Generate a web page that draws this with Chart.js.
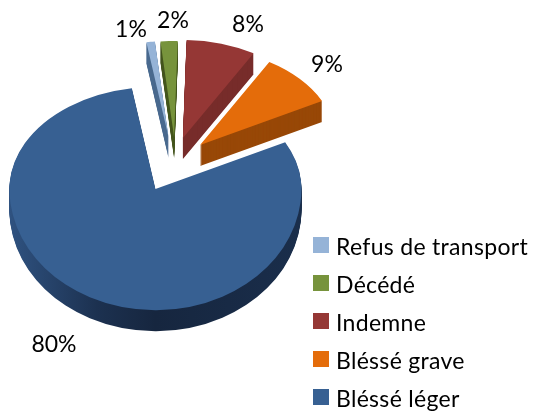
<!DOCTYPE html>
<html>
<head>
<meta charset="utf-8">
<style>
html, body { margin: 0; padding: 0; background: #fff; }
canvas { display: block; }
</style>
</head>
<body>
<canvas id="pie" width="535" height="412"></canvas>
<script src="https://cdn.jsdelivr.net/npm/chart.js@4"></script>
<script>
const categories = ['Refus de transport', 'Décédé', 'Indemne', 'Bléssé grave', 'Bléssé léger'];
const shares = [1, 2, 8, 9, 80];
const topColours = ['#95b3d7', '#77933c', '#953735', '#e46c0a', '#376092'];
const sideColours = ['#4a6a8f', '#45561f', '#772c2a', '#984807', null];

// 3D look: pie is squashed a bit more at the back than at the front
const centre = { x: 172.5, y: 163.3 };
const explode = 38;
const depth = 21;
const kBack = 0.7;
const kFront = 0.83;
const sliceScale = [0.94, 0.94, 0.96, 0.94, 1];
const sliceNudge = [1, 3, 0, 0, 0];
const labelSpots = [[131, 30], [173, 21], [248, 25], [327, 65], [54, 345]];

function paintSlice(chart, arc, i, yOff) {
    const ctx = chart.ctx;
    const mid = (arc.startAngle + arc.endAngle) / 2;
    const kMid = i === 4 ? 0.76 : kBack;
    const ax = centre.x + Math.cos(mid) * explode + sliceNudge[i];
    const ay = Math.round(centre.y + Math.sin(mid) * explode * kMid) + yOff;
    [[kBack, 0, ay], [kFront, ay, chart.height - ay]].forEach(function (part) {
        ctx.save();
        ctx.beginPath();
        ctx.rect(0, part[1], chart.width, part[2]);
        ctx.clip();
        ctx.translate(ax, ay);
        ctx.scale(sliceScale[i], sliceScale[i] * part[0]);
        ctx.translate(-arc.x, -arc.y);
        arc.draw(ctx);
        ctx.restore();
    });
}

const pie3d = {
    id: 'pie3d',
    beforeDatasetsDraw(chart) {
        const ctx = chart.ctx;
        chart.getDatasetMeta(0).data.forEach(function (arc, i) {
            const base = arc.options;
            let side = sideColours[i];
            if (!side) {
                side = ctx.createLinearGradient(arc.x - 146, 0, arc.x + 146, 0);
                side.addColorStop(0, '#2f5280');
                side.addColorStop(0.3, '#1c3150');
                side.addColorStop(0.5, '#16263f');
                side.addColorStop(1, '#1a2e4b');
            }
            arc.options = Object.assign({}, base, { backgroundColor: side });
            for (let d = depth; d > 0; d--) paintSlice(chart, arc, i, d);
            arc.options = base;
            paintSlice(chart, arc, i, 0);
        });
        return false;
    },
    afterDraw(chart) {
        const ctx = chart.ctx;
        ctx.save();
        ctx.fillStyle = '#000';
        ctx.font = '23px Lato';
        ctx.textBaseline = 'middle';
        ctx.textAlign = 'center';
        shares.forEach(function (v, i) {
            ctx.fillText(v + '%', labelSpots[i][0], labelSpots[i][1]);
        });
        ctx.textAlign = 'left';
        ctx.letterSpacing = '0.3px';
        categories.forEach(function (name, i) {
            const y = 245 + i * 38;
            ctx.fillStyle = topColours[i];
            ctx.fillRect(313, y - 8, 16, 16);
            ctx.fillStyle = '#000';
            ctx.fillText(name, 336, y + 3);
        });
        ctx.restore();
    }
};

new Chart(document.getElementById('pie'), {
    type: 'pie',
    data: {
        labels: categories,
        datasets: [{
            data: shares,
            backgroundColor: topColours,
            borderWidth: 0,
            radius: 146
        }]
    },
    options: {
        responsive: false,
        animation: false,
        events: [],
        rotation: -9.3,
        plugins: {
            legend: { display: false },
            tooltip: { enabled: false }
        }
    },
    plugins: [pie3d]
});
</script>
</body>
</html>
